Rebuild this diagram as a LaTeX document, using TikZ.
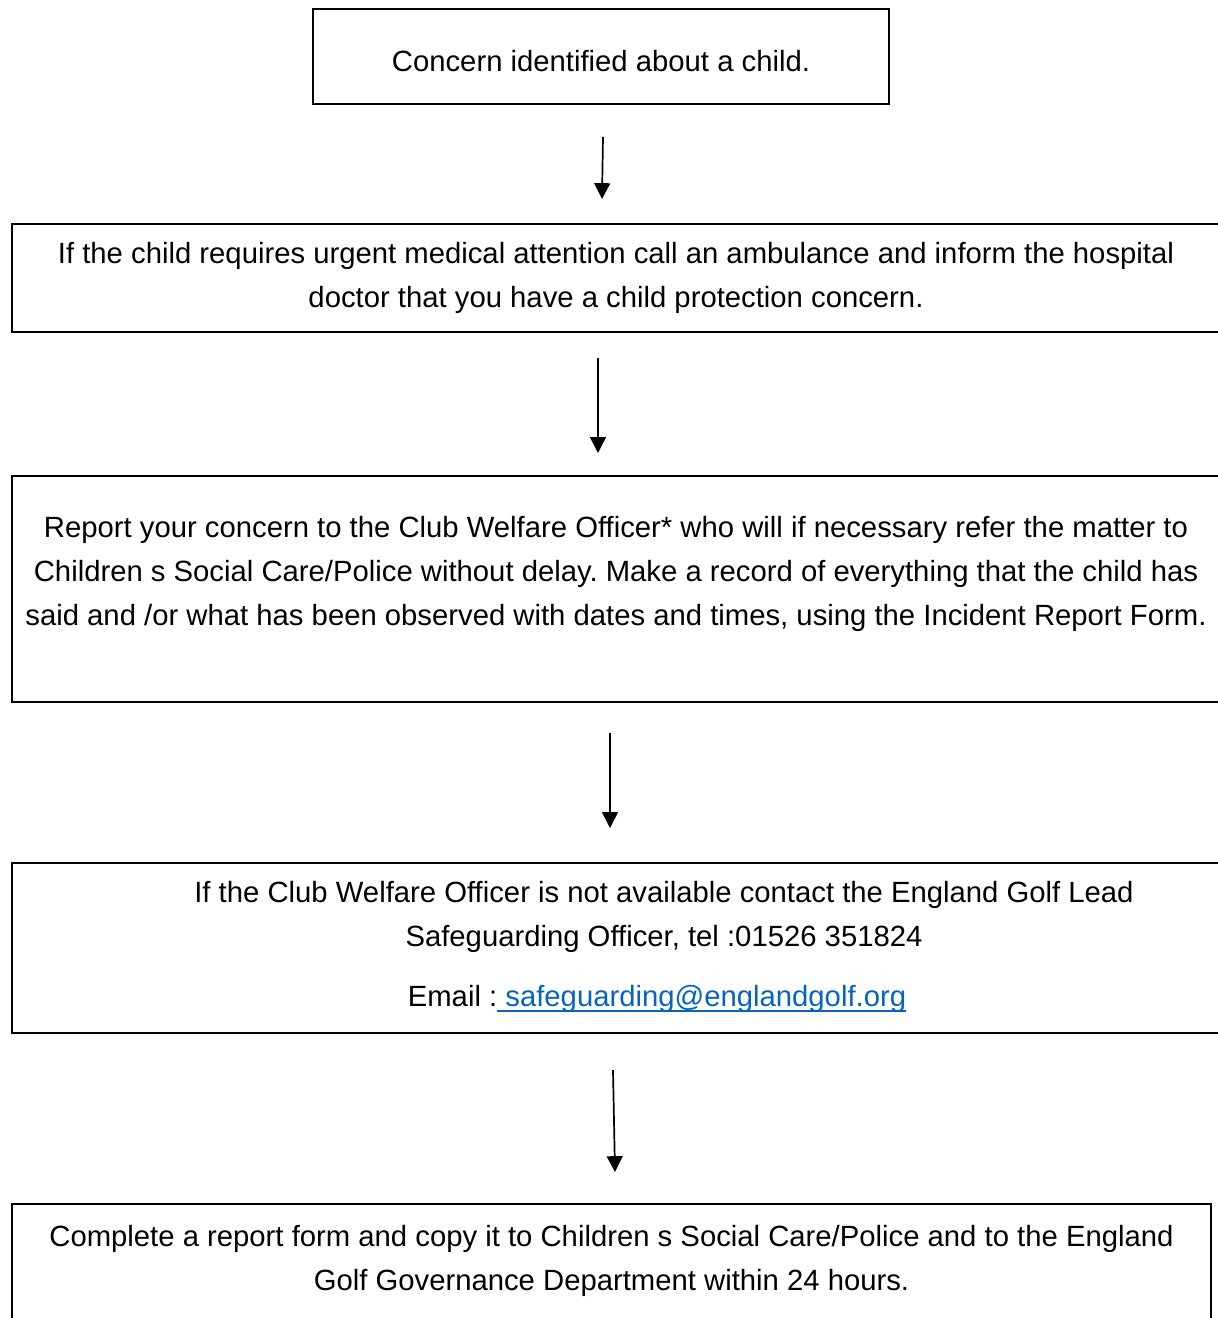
\documentclass[tikz,border=0pt]{standalone}
\usepackage{fontspec}
\setmainfont{Liberation Sans}
\usetikzlibrary{arrows.meta,positioning,fit}
\definecolor{linkblue}{RGB}{5,99,193}
\newcommand\linkline[1]{\setbox0\hbox{#1}\rlap{\raisebox{-2.2pt}{\rule{\wd0}{0.6pt}}}\box0}
\frenchspacing

\begin{document}
\begin{tikzpicture}[
      x=0.41pt, y=-0.41pt,
      box/.style={draw=black, line width=1pt, inner sep=0pt},
      txt/.style={align=center, inner sep=0pt, font=\fontsize{12}{18}\selectfont},
      arr/.style={-{Triangle[length=6.5pt,width=6.5pt]}, line width=0.7pt}
  ]
  \useasboundingbox (0,0) rectangle (1218,1318);
  \clip (0,0) rectangle (1218,1318);

  %% ---- Frames (boxes 2--4 run past the right edge, box 5 past the bottom)
  \node[box, fit={(313,9) (889,104)}]    (concern) {};
  \node[box, fit={(12,224) (1224,332)}]  (medical) {};
  \node[box, fit={(12,476) (1224,702)}]  (report)  {};
  \node[box, fit={(12,863) (1224,1033)}] (lead)    {};
  \node[box, fit={(12,1204) (1211,1330)}] (form)   {};

  %% ---- Texts
  \node[txt] (concerntxt) at (601,61)  {Concern identified about a child.};
  \node[txt] (medicaltxt) at (616,278) {If the child requires urgent medical attention call an ambulance and inform the hospital\\
    doctor that you have a child protection concern.};
  \node[txt] (reporttxt)  at (616,574) {Report your concern to the Club Welfare Officer* who will if necessary refer the matter to\\
    Children s Social Care/Police without delay. Make a record of everything that the child has\\
    said and /or what has been observed with dates and times, using the Incident Report Form.};
  \node[txt] (leadtxt)    at (664,917) {If the Club Welfare Officer is not available contact the England Golf Lead\\
    Safeguarding Officer, tel :01526 351824};
  \node[txt] (emailtxt)   at (657,999) {Email :{\color{linkblue}\linkline{\ safeguarding@englandgolf.org}}};
  \node[txt] (formtxt)    at (611.5,1261) {Complete a report form and copy it to Children s Social Care/Police and to the England\\
    Golf Governance Department within 24 hours.};

  %% ---- Arrow ends (arrows float between the frames)
  \coordinate (a1s) at (603,137);  \coordinate (a1e) at (602,199);
  \coordinate (a2s) at (598,358);  \coordinate (a2e) at (598,453);
  \coordinate (a3s) at (610,733);  \coordinate (a3e) at (610,828);
  \coordinate (a4s) at (613,1070); \coordinate (a4e) at (615,1172);

  \draw[arr] (a1s) -- (a1e);
  \draw[arr] (a2s) -- (a2e);
  \draw[arr] (a3s) -- (a3e);
  \draw[arr] (a4s) -- (a4e);
\end{tikzpicture}
\end{document}
